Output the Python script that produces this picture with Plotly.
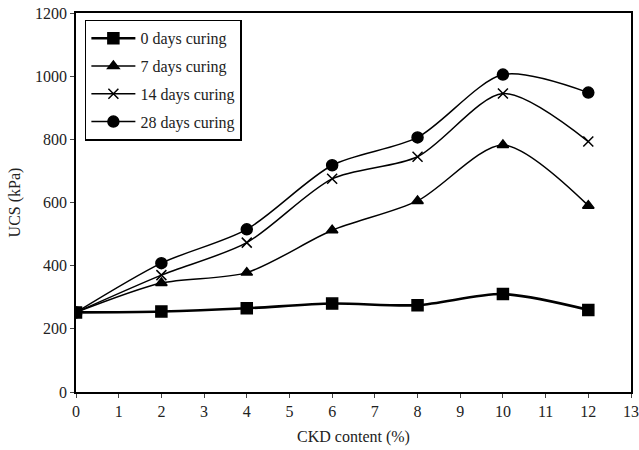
import plotly.graph_objects as go

ckd = [0, 2, 4, 6, 8, 10, 12]
ucs_0 = [252, 255, 265, 280, 275, 310, 260]
ucs_7 = [252, 345, 378, 512, 605, 782, 590]
ucs_14 = [252, 370, 473, 675, 745, 945, 793]
ucs_28 = [252, 408, 515, 718, 806, 1005, 948]
names = ["0 days curing", "7 days curing", "14 days curing", "28 days curing"]

series = [
    (names[0], ucs_0, "square", 11, 2.6),
    (names[1], ucs_7, "triangle-up", 10, 1.5),
    (names[2], ucs_14, "x-thin", 10, 1.5),
    (names[3], ucs_28, "circle", 11, 1.5),
]

fig = go.Figure()
for i, (name, vals, sym, size, lw) in enumerate(series):
    fig.add_trace(go.Scatter(
        x=ckd, y=vals, name=name, mode="lines+markers", legendgroup=f"g{i}",
        line=dict(color="black", width=lw, shape="spline", smoothing=0.8),
        marker=dict(symbol=sym, size=size, color="black",
                    line=dict(color="black", width=1.5)),
    ))

font = "Liberation Serif, Times New Roman, serif"
fig.update_layout(
    width=639, height=450,
    margin=dict(l=76, r=8, t=13, b=58),
    paper_bgcolor="white", plot_bgcolor="white",
    font=dict(family=font, size=16, color="#222"),
    showlegend=True,
    legend=dict(x=0.016, y=0.982, xanchor="left", yanchor="top",
                bgcolor="white", bordercolor="black", borderwidth=1.5,
                font=dict(family=font, size=16, color="#222"),
                tracegroupgap=4, itemwidth=44),
    xaxis=dict(range=[0, 13], dtick=1, ticks="outside", ticklen=4,
               showline=True, linecolor="black", linewidth=1.5, mirror=True,
               showgrid=False, zeroline=False, automargin=False,
               tickfont=dict(family=font, size=16, color="#222"),
               title=dict(text="CKD content (%)", font=dict(family=font, size=16, color="#222"), standoff=12)),
    yaxis=dict(range=[0, 1200], dtick=200, ticks="outside", ticklen=4,
               showline=True, linecolor="black", linewidth=1.5, mirror=True,
               showgrid=False, zeroline=False, automargin=False,
               tickfont=dict(family=font, size=16, color="#222"),
               title=dict(text="UCS (kPa)", font=dict(family=font, size=16, color="#222"), standoff=10)),
)
fig.write_html("out.html", config={"displayModeBar": False},
               post_script="document.body.style.margin='0px';")
